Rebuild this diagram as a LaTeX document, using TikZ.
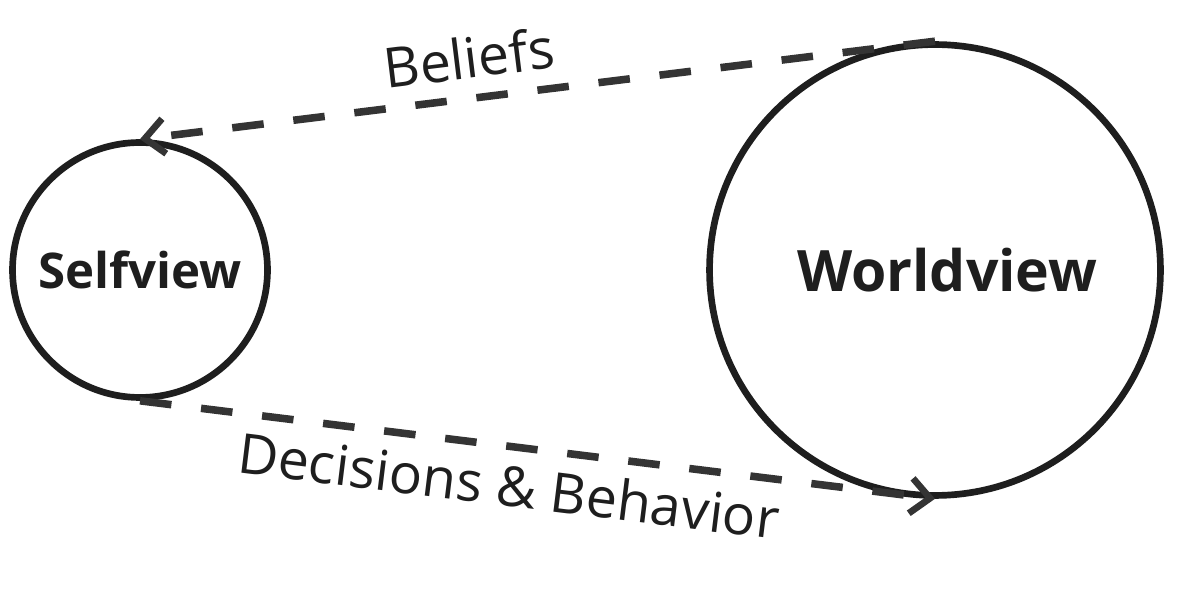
\documentclass[tikz,border=0pt]{standalone}
\usepackage{fontspec}
\setmainfont{Open Sans}
\usetikzlibrary{arrows.meta}
\definecolor{ink}{HTML}{1E1E1E}
\definecolor{dash}{HTML}{343434}

\begin{document}
\begin{tikzpicture}[
  x=0.02cm, y=-0.02cm,
  view/.style={circle, draw=ink, line width=3.8pt, text=ink, inner sep=0pt, font=\fontsize{28}{34}\selectfont\bfseries},
  flow/.style={-{Straight Barb[length=11pt, width=20pt, line width=3.8pt]}, line width=4.3pt, color=dash, dash pattern=on 18pt off 17pt},
  lbl/.style={text=ink, font=\fontsize{31.5}{36}\selectfont, sloped, inner sep=9pt},
]
\useasboundingbox (0,0) rectangle (1190,594);

\node[view, minimum size=5.1cm] (self) at (140,270) {Selfview};
\node[view, minimum size=9.02cm, font=\fontsize{32.5}{40}\selectfont\bfseries] (world) at (935,270) {\hspace*{14pt}Worldview};

\draw[flow] (world.north) -- node[lbl, pos=0.58, above] (beliefs) {Beliefs} (self.north);
\draw[flow] (self.south) -- node[lbl, pos=0.47, below, inner sep=8pt] (decide) {Decisions \& Behavior} (world.south);

\end{tikzpicture}
\end{document}
